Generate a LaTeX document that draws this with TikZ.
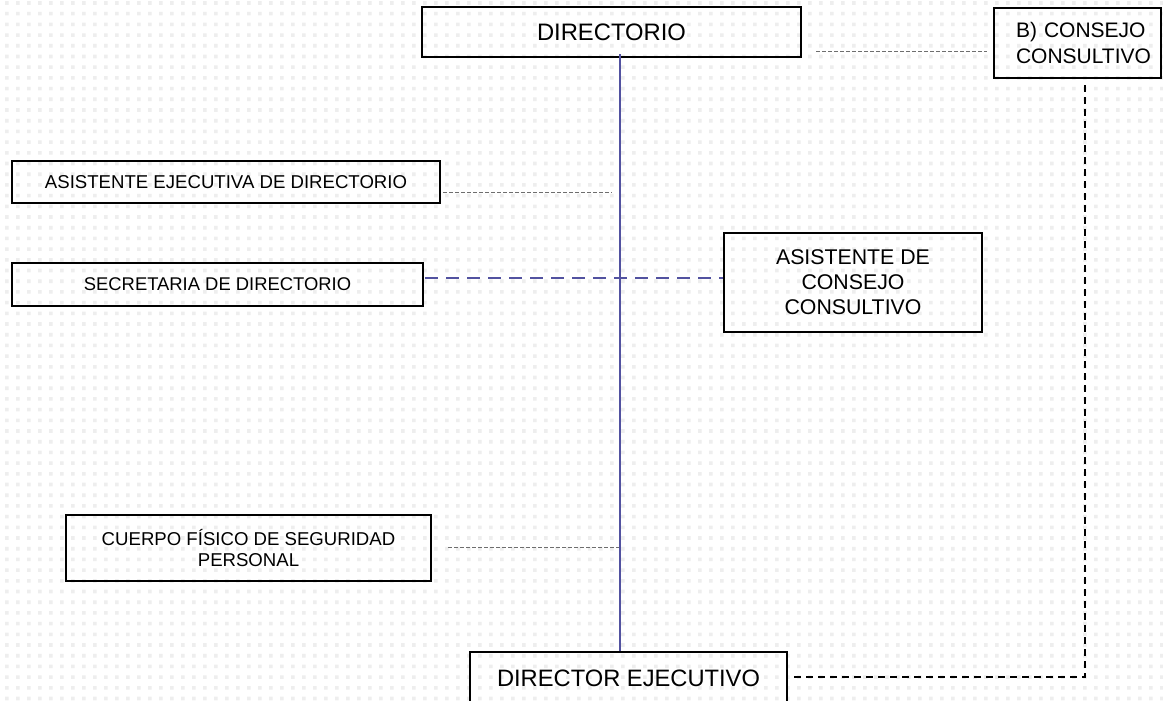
\documentclass[tikz,border=0pt]{standalone}
\usepackage{fontspec}
\setmainfont{Liberation Sans}
\usetikzlibrary{calc}
\definecolor{spineblue}{RGB}{82,82,160}
\definecolor{griddot}{RGB}{238,238,238}
\definecolor{thingray}{RGB}{110,110,110}
\tikzset{
  orgbox/.style={draw=black, line width=2.9pt, rectangle, inner sep=0pt, align=center},
  thindash/.style={draw=thingray, line width=1pt, dash pattern=on 4pt off 2pt},
  bluedash/.style={draw=spineblue, line width=2pt, dash pattern=on 13pt off 8pt},
  blackdash/.style={draw=black, line width=2pt, dash pattern=on 7pt off 5pt},
  spineline/.style={draw=spineblue, line width=1.8pt},
}
\begin{document}
\begin{tikzpicture}[x=1pt,y=-1pt]
\useasboundingbox (0,0) rectangle (1163,701);
\clip (0,0) rectangle (1163,701);
\fill[white] (0,0) rectangle (1163,701);
% background dot grid
\fill[griddot] \foreach \i in {0,...,105} { \foreach \j in {0,...,65} { ({5+11*\i},{1.2+10.7*\j}) rectangle ++(3.6,3.6) } };

% boxes
\node[orgbox, minimum width=379pt, minimum height=50pt, font=\fontsize{23.8}{27}\selectfont] (dir) at (611.5,32) {DIRECTORIO};
\node[orgbox, minimum width=167pt, minimum height=70pt, text width=123pt, inner xsep=22pt, align=left, font=\fontsize{21}{26}\selectfont] (cons) at (1077.5,43) {\mbox{B) CONSEJO}\\\mbox{CONSULTIVO}};
\node[orgbox, minimum width=428pt, minimum height=42pt, font=\fontsize{18.6}{21}\selectfont] (asej) at (226,182) {ASISTENTE EJECUTIVA DE DIRECTORIO};
\node[orgbox, minimum width=411pt, minimum height=43pt, font=\fontsize{18.4}{21}\selectfont] (sec) at (217.5,284.5) {SECRETARIA DE DIRECTORIO};
\node[orgbox, minimum width=258pt, minimum height=99pt, font=\fontsize{21.3}{25}\selectfont] (acc) at (853,282.5) {ASISTENTE DE\\CONSEJO\\CONSULTIVO};
\node[orgbox, minimum width=365pt, minimum height=66pt, font=\fontsize{18.6}{20.5}\selectfont] (cuerpo) at (248.5,548) {CUERPO FÍSICO DE SEGURIDAD\\PERSONAL};
\node[orgbox, minimum width=317pt, minimum height=52pt, font=\fontsize{23.7}{27}\selectfont] (dirEj) at (628.5,678) {DIRECTOR EJECUTIVO};

% spine
\coordinate (spine) at (620,0);
\draw[spineline] (dir.south -| spine) ++(0,-4) -- (dirEj.north -| spine);

% connectors
\coordinate (asejEnd) at (612,192);
\draw[thindash] ($(asej.east)+(2,10)$) -- (asejEnd);
\draw[thindash] ($(dir.east)+(14,20)$) -- ($(cons.west)+(-6,9)$);
\coordinate (cuerpoEnd) at (619,547);
\draw[thindash] ($(cuerpo.east)+(16,-1)$) -- (cuerpoEnd);
\draw[bluedash] ($(sec.east)+(1,-6.5)$) -- ($(acc.west)+(0,-4.5)$);
\draw[blackdash] ($(dirEj.east)+(6,-1)$) -| ($(cons.south)+(7.5,1)$);
\end{tikzpicture}
\end{document}
